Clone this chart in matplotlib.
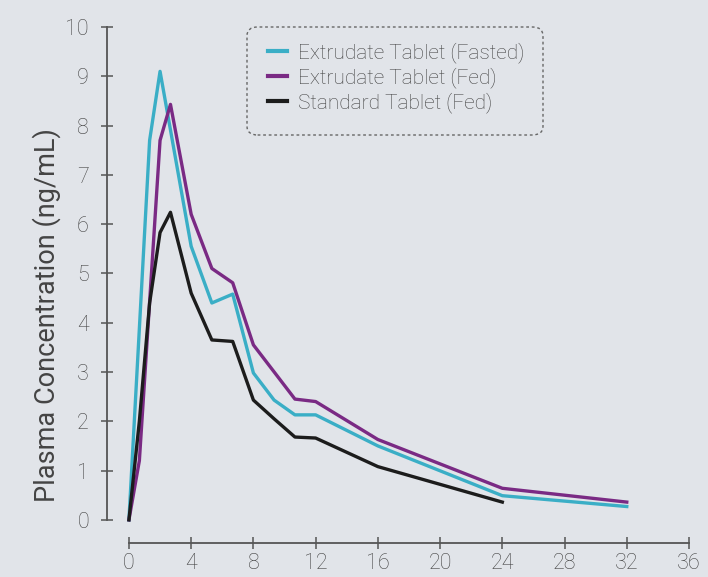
import matplotlib.pyplot as plt
from matplotlib.patches import FancyBboxPatch

# time (h) and plasma concentration (ng/mL)
t_fasted = [0, 1.33, 2, 4, 5.33, 6.67, 8, 9.33, 10.67, 12, 16, 24, 32]
c_fasted = [0, 7.7, 9.1, 5.55, 4.4, 4.58, 2.98, 2.43, 2.13, 2.13, 1.5, 0.49, 0.27]

t_fed = [0, 0.67, 2, 2.67, 4, 5.33, 6.67, 8, 10.67, 12, 16, 24, 32]
c_fed = [0, 1.2, 7.7, 8.43, 6.2, 5.1, 4.81, 3.55, 2.45, 2.4, 1.63, 0.64, 0.36]

t_std = [0, 0.67, 1.33, 2, 2.67, 4, 5.33, 6.67, 8, 9.33, 10.67, 12, 16, 24]
c_std = [0, 2.0, 4.4, 5.83, 6.24, 4.6, 3.65, 3.62, 2.43, 2.05, 1.68, 1.66, 1.08, 0.36]

labels = ["Extrudate Tablet (Fasted)", "Extrudate Tablet (Fed)", "Standard Tablet (Fed)"]
colors = ["#3aaec6", "#7a2a84", "#1c1c1c"]
xticks = list(range(0, 37, 4))
yticks = list(range(0, 11))

bg = "#e1e4e9"
txt = "#444444"
plt.rcParams['font.family'] = ['Roboto', 'DejaVu Sans']
plt.rcParams['font.weight'] = 'light'

fig = plt.figure(figsize=(7.08, 5.77), dpi=100, facecolor=bg)
ax = fig.add_axes([107 / 708, 34 / 577, 582 / 708, 516 / 577])
ax.set_facecolor(bg)

for t, c, lab, col in zip([t_fasted, t_fed, t_std], [c_fasted, c_fed, c_std], labels, colors):
    ax.plot(t, c, color=col, lw=2.4, label=lab)

ax.set_xlim(-1.41, 36)
ax.set_ylim(-0.47, 10)
for s in ["top", "right"]:
    ax.spines[s].set_visible(False)
ax.spines["left"].set_bounds(0, 10)
ax.spines["bottom"].set_bounds(0, 36)
for s in ["left", "bottom"]:
    ax.spines[s].set_color("#555555")
    ax.spines[s].set_linewidth(1.3)
ax.set_xticks(xticks)
ax.set_yticks(yticks)
ax.tick_params(direction="inout", length=8, width=1.1, color="#555555",
               labelsize=15.5, labelcolor=txt)
ax.tick_params(axis="y", pad=9)
ax.tick_params(axis="x", pad=3)
ax.set_ylabel("Plasma Concentration (ng/mL)", fontsize=19.5, color=txt)
ax.yaxis.set_label_coords(-0.079, 0.442)

leg = ax.legend(loc="upper left", bbox_to_anchor=(0.245, 1.008), frameon=False,
                fontsize=15, handlelength=0.9, handletextpad=0.5, labelspacing=0.2,
                labelcolor=txt)
for h in leg.get_lines():
    h.set_linewidth(3)

box = FancyBboxPatch((247 / 708, (577 - 135) / 577), 296 / 708, 108 / 577,
                     boxstyle="round,pad=0,rounding_size=0.015",
                     transform=fig.transFigure, facecolor="none",
                     edgecolor="#666666", lw=1, ls=(0, (2, 2)))
fig.patches.append(box)

fig.savefig("out.png", dpi=100, facecolor=bg)
